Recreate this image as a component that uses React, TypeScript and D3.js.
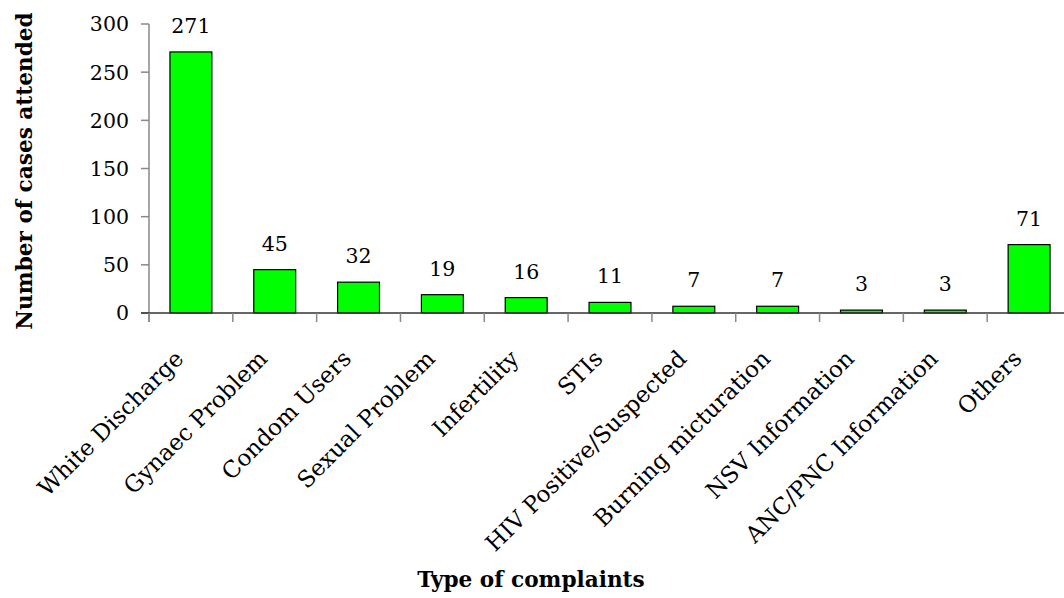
import React from "react";
import * as d3 from "d3";

const categories = [
  "White Discharge",
  "Gynaec Problem",
  "Condom Users",
  "Sexual Problem",
  "Infertility",
  "STIs",
  "HIV Positive/Suspected",
  "Burning micturation",
  "NSV Information",
  "ANC/PNC Information",
  "Others",
];
const cases = [271, 45, 32, 19, 16, 11, 7, 7, 3, 3, 71];
const yTicks = [0, 50, 100, 150, 200, 250, 300];

const W = 1064;
const H = 598;
const FONT = "'DejaVu Serif', serif";

export default function App() {
  const x = d3.scaleBand<string>().domain(categories).range([149, 1071]).padding(0);
  const y = d3.scaleLinear().domain([0, 300]).range([313, 24]);
  const bw = x.bandwidth();
  const barW = bw * 0.5;
  const boundaries = categories.map((c) => x(c) as number).concat([x.range()[1]]);

  return (
    <div style={{ position: "absolute", left: 0, top: 0 }}>
      <svg width={W} height={H} style={{ display: "block", background: "#fff" }}>
        {/* y axis */}
        <line x1={149} x2={149} y1={y(300)} y2={322} stroke="#888" strokeWidth={1.5} />
        {yTicks.map((t) => (
          <g key={t}>
            <line x1={141} x2={149} y1={y(t)} y2={y(t)} stroke="#888" strokeWidth={1.5} />
            <text x={129} y={y(t)} dy="0.36em" textAnchor="end" fontFamily={FONT} fontSize={20.5} fill="#000">
              {t}
            </text>
          </g>
        ))}
        {/* bars */}
        {categories.map((c, i) => {
          const bx = (x(c) as number) + (bw - barW) / 2;
          return (
            <g key={c}>
              <rect x={bx} y={y(cases[i])} width={barW} height={y(0) - y(cases[i])} fill="#00ff00" stroke="#000" strokeWidth={1.2} />
              <text x={bx + barW / 2} y={y(cases[i]) - 19} textAnchor="middle" fontFamily={FONT} fontSize={20.5} fill="#000">
                {cases[i]}
              </text>
            </g>
          );
        })}
        {/* x axis */}
        <line x1={141} x2={W} y1={313} y2={313} stroke="#333" strokeWidth={1.5} />
        {boundaries.map((b, i) => (
          <line key={i} x1={b} x2={b} y1={313} y2={322} stroke="#888" strokeWidth={1.5} />
        ))}
        {categories.map((c) => {
          const cx = (x(c) as number) + bw / 2;
          return (
            <text
              key={c}
              transform={`translate(${cx - 6},${360}) rotate(-45)`}
              textAnchor="end"
              fontFamily={FONT}
              fontSize={23}
              fill="#000"
            >
              {c}
            </text>
          );
        })}
        {/* titles */}
        <text
          transform={`translate(32,${171}) rotate(-90)`}
          textAnchor="middle"
          fontFamily={FONT}
          fontSize={21.6}
          fontWeight="bold"
          fill="#000"
        >
          Number of cases attended
        </text>
        <text x={531} y={587} textAnchor="middle" fontFamily={FONT} fontSize={21.6} fontWeight="bold" fill="#000">
          Type of complaints
        </text>
      </svg>
    </div>
  );
}
